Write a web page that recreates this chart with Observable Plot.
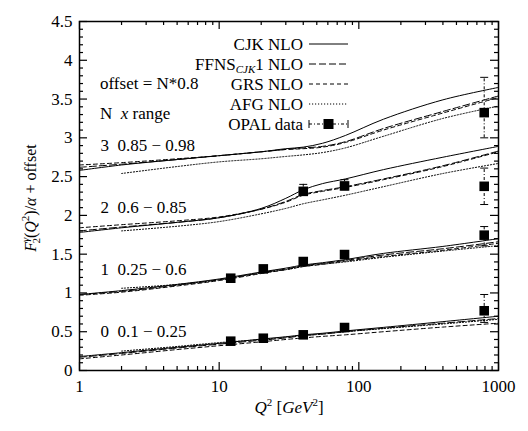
<!DOCTYPE html>
<html><head><meta charset="utf-8">
<script src="https://cdn.jsdelivr.net/npm/d3@7"></script>
<script src="https://cdn.jsdelivr.net/npm/@observablehq/plot@0.6"></script>
<style>body{margin:0;background:#fff}</style>
</head><body><div id="chart"></div>
<script>
// Q^2 grid for the theory curves (AFG starts at 2)
const Q = [1, 2, 5, 10, 20, 30, 40, 55, 80, 150, 400, 1000];
const QA = [2, 5, 10, 20, 30, 40, 55, 80, 150, 400, 1000];

// N = 0 : x 0.1 - 0.25
const cjk0  = [0.18, 0.23, 0.30, 0.35, 0.405, 0.435, 0.46, 0.48, 0.51, 0.556, 0.63, 0.70];
const ffns0 = [0.17, 0.22, 0.29, 0.34, 0.39, 0.42, 0.45, 0.47, 0.50, 0.545, 0.61, 0.67];
const grs0  = [0.15, 0.20, 0.27, 0.32, 0.37, 0.40, 0.42, 0.44, 0.46, 0.50, 0.56, 0.61];
const afg0  = [0.25, 0.31, 0.36, 0.40, 0.43, 0.45, 0.47, 0.50, 0.54, 0.60, 0.66];
// N = 1 : x 0.25 - 0.6
const cjk1  = [0.98, 1.03, 1.11, 1.18, 1.27, 1.32, 1.36, 1.39, 1.43, 1.51, 1.60, 1.70];
const ffns1 = [0.98, 1.02, 1.10, 1.17, 1.26, 1.31, 1.35, 1.38, 1.42, 1.49, 1.57, 1.66];
const grs1  = [0.97, 1.01, 1.09, 1.16, 1.25, 1.30, 1.34, 1.37, 1.41, 1.47, 1.55, 1.64];
const afg1  = [1.06, 1.11, 1.17, 1.26, 1.30, 1.34, 1.37, 1.40, 1.46, 1.54, 1.61];
// N = 2 : x 0.6 - 0.85
const cjk2  = [1.78, 1.84, 1.91, 1.97, 2.09, 2.22, 2.33, 2.41, 2.47, 2.59, 2.75, 2.89];
const ffns2 = [1.80, 1.85, 1.91, 1.97, 2.08, 2.18, 2.27, 2.32, 2.37, 2.47, 2.64, 2.83];
const grs2  = [1.84, 1.88, 1.93, 1.98, 2.08, 2.17, 2.26, 2.31, 2.36, 2.46, 2.63, 2.82];
const afg2  = [1.80, 1.86, 1.92, 2.02, 2.09, 2.15, 2.20, 2.26, 2.37, 2.54, 2.67];
// N = 3 : x 0.85 - 0.98
const cjk3  = [2.58, 2.65, 2.72, 2.77, 2.82, 2.86, 2.88, 2.93, 3.03, 3.24, 3.49, 3.65];
const ffns3 = [2.62, 2.66, 2.72, 2.77, 2.82, 2.85, 2.87, 2.89, 2.95, 3.12, 3.34, 3.54];
const grs3  = [2.65, 2.68, 2.73, 2.77, 2.82, 2.85, 2.86, 2.88, 2.94, 3.10, 3.32, 3.52];
const afg3  = [2.54, 2.63, 2.69, 2.73, 2.76, 2.78, 2.81, 2.87, 3.02, 3.25, 3.41];

// OPAL data
const opalSet = [0, 0, 0, 0, 0, 1, 1, 1, 1, 1, 2, 2, 2, 3];
const opalQ   = [12.1, 20.7, 40, 79, 790, 12.1, 20.7, 40, 79, 790, 40, 79, 790, 790];
const opalY   = [0.378, 0.416, 0.46, 0.554, 0.77, 1.19, 1.31, 1.405, 1.495, 1.745, 2.31, 2.38, 2.375, 3.325];
const opalHi  = [0.40, 0.44, 0.48, 0.58, 0.98, 1.21, 1.33, 1.43, 1.52, 1.856, 2.40, 2.46, 2.61, 3.78];
const opalLo  = [0.36, 0.39, 0.44, 0.53, 0.62, 1.17, 1.29, 1.38, 1.47, 1.607, 2.26, 2.33, 2.14, 3.00];

const models = ["CJK NLO", "FFNS1 NLO", "GRS NLO", "AFG NLO"];
const dashes = [null, "7,3", "4,3", "1.2,1.8"];
const setLabels = ["0\u20020.1 \u2212 0.25", "1\u20020.25 \u2212 0.6", "2\u20020.6 \u2212 0.85", "3\u20020.85 \u2212 0.98"];
const xMajor = [1, 10, 100, 1000];
const xMinor = [2,3,4,5,6,7,8,9,20,30,40,50,60,70,80,90,200,300,400,500,600,700,800,900];
const yMajor = [0, 0.5, 1, 1.5, 2, 2.5, 3, 3.5, 4, 4.5];
const yMinor = d3.range(1, 45).filter(i => i % 5 !== 0).map(i => i / 10);

const curves = [
  [cjk0, ffns0, grs0, afg0], [cjk1, ffns1, grs1, afg1],
  [cjk2, ffns2, grs2, afg2], [cjk3, ffns3, grs3, afg3]
];
const rows = [];
curves.forEach((set, n) => set.forEach((vals, m) => {
  const qs = m === 3 ? QA : Q;
  vals.forEach((v, i) => rows.push({q: qs[i], y: v, key: n + "-" + m, m}));
}));
const opal = opalQ.map((q, i) => ({q, y: opalY[i], hi: opalHi[i], lo: opalLo[i], set: opalSet[i]}));

const W = 528, H = 431, mL = 79, mR = 30, mT = 21, mB = 61;
const innerW = W - mL - mR, innerH = H - mT - mB;
const font = "'Liberation Serif', 'Times New Roman', 'DejaVu Serif', serif";
const FS = 17, FSs = 11;
const cap = {draw(ctx) { ctx.moveTo(-4, 0); ctx.lineTo(4, 0); }};

function overlay(index, scales, values, dims) {
  const g = d3.create("svg:g").attr("font-family", font).attr("font-size", FS)
    .attr("fill", "black").attr("text-anchor", "start");
  // legend
  const lx1 = 309, lx2 = 348, tx = 303;
  models.concat(["OPAL data"]).forEach((name, i) => {
    const y = 44 + 20 * i;
    const t = g.append("text").attr("x", tx).attr("y", y).attr("dy", "0.35em").attr("text-anchor", "end");
    if (i === 1) {
      t.append("tspan").text("FFNS");
      t.append("tspan").attr("font-style", "italic").attr("font-size", FSs).attr("dy", 3).text("CJK");
      t.append("tspan").attr("dy", -3).text("1 NLO");
    } else t.text(name);
    if (i < 4) {
      g.append("line").attr("x1", lx1).attr("x2", lx2).attr("y1", y).attr("y2", y)
        .attr("stroke", "black").attr("stroke-width", 1).attr("stroke-dasharray", dashes[i]);
    } else {
      g.append("line").attr("x1", lx1).attr("x2", lx2).attr("y1", y).attr("y2", y)
        .attr("stroke", "black").attr("stroke-width", 1).attr("stroke-dasharray", "3,2,1,2");
      [lx1, lx2].forEach(x => g.append("line").attr("x1", x).attr("x2", x).attr("y1", y - 4).attr("y2", y + 4).attr("stroke", "black"));
      g.append("rect").attr("x", (lx1 + lx2) / 2 - 5).attr("y", y - 5).attr("width", 10).attr("height", 10).attr("fill", "black");
    }
  });
  // annotations
  g.append("text").attr("x", 100).attr("y", 83).attr("dy", "0.35em").text("offset = N*0.8");
  const nx = g.append("text").attr("x", 100).attr("y", 113).attr("dy", "0.35em");
  nx.append("tspan").text("N\u2002");
  nx.append("tspan").attr("font-style", "italic").text("x");
  nx.append("tspan").text(" range");
  // y-axis title
  const yt = g.append("text").attr("transform", "translate(30,198) rotate(-90)").attr("text-anchor", "middle")
    .attr("dy", "0.35em").attr("font-size", 16);
  yt.append("tspan").attr("font-style", "italic").text("F");
  yt.append("tspan").attr("font-style", "italic").attr("font-size", FSs).attr("dy", -7).text("\u03b3");
  yt.append("tspan").attr("font-size", FSs).attr("dx", -6).attr("dy", 11).text("2");
  yt.append("tspan").attr("dy", -4).text("(");
  yt.append("tspan").attr("font-style", "italic").text("Q");
  yt.append("tspan").attr("font-size", FSs).attr("dy", -7).text("2");
  yt.append("tspan").attr("dy", 7).text(")/");
  yt.append("tspan").attr("font-style", "italic").text("\u03b1");
  yt.append("tspan").text(" + offset");
  // x-axis title
  const xt = g.append("text").attr("x", 289).attr("y", 413).attr("text-anchor", "middle");
  xt.append("tspan").attr("font-style", "italic").text("Q");
  xt.append("tspan").attr("font-size", FSs).attr("dy", -7).text("2");
  xt.append("tspan").attr("dy", 7).text(" [");
  xt.append("tspan").attr("font-style", "italic").text("GeV");
  xt.append("tspan").attr("font-size", FSs).attr("dy", -7).text("2");
  xt.append("tspan").attr("dy", 7).text("]");
  return g.node();
}

const chart = Plot.plot({
  width: W, height: H, marginLeft: mL, marginRight: mR, marginTop: mT, marginBottom: mB,
  x: {type: "log", domain: [1, 1000]},
  y: {domain: [0, 4.5]},
  style: {fontFamily: font, fontSize: FS + "px", background: "white", color: "black"},
  marks: [
    Plot.axisX({ticks: xMajor, tickSize: 0, tickPadding: 9, tickFormat: d => String(d), label: null, fontSize: FS, fontFamily: font}),
    Plot.axisY({ticks: yMajor, tickSize: 0, tickPadding: 7, tickFormat: d => String(d), label: null, fontSize: FS, fontFamily: font}),
    Plot.tickX(xMajor, {x: d => d, insetTop: innerH - 8, strokeWidth: 1.2}),
    Plot.tickX(xMajor, {x: d => d, insetBottom: innerH - 8, strokeWidth: 1.2}),
    Plot.tickX(xMinor, {x: d => d, insetTop: innerH - 4, strokeWidth: 1.2}),
    Plot.tickX(xMinor, {x: d => d, insetBottom: innerH - 4, strokeWidth: 1.2}),
    Plot.tickY(yMajor, {y: d => d, insetRight: innerW - 8, strokeWidth: 1.2}),
    Plot.tickY(yMajor, {y: d => d, insetLeft: innerW - 8, strokeWidth: 1.2}),
    Plot.tickY(yMinor, {y: d => d, insetRight: innerW - 4, strokeWidth: 1.2}),
    Plot.tickY(yMinor, {y: d => d, insetLeft: innerW - 4, strokeWidth: 1.2}),
    ...[0, 1, 2, 3].map(m => Plot.line(rows.filter(r => r.m === m), {
      x: "q", y: "y", z: "key", stroke: "black", strokeWidth: 1,
      strokeDasharray: dashes[m], curve: "catmull-rom"
    })),
    Plot.ruleX(opal, {x: "q", y1: "lo", y2: "hi", stroke: "black", strokeWidth: 1, strokeDasharray: "3,2,1,2"}),
    Plot.dot(opal, {x: "q", y: "hi", symbol: cap, r: 4, stroke: "black", strokeWidth: 1}),
    Plot.dot(opal, {x: "q", y: "lo", symbol: cap, r: 4, stroke: "black", strokeWidth: 1}),
    Plot.dot(opal, {x: "q", y: "y", symbol: "square", r: 5.4, fill: "black"}),
    Plot.text(setLabels.map((t, n) => ({t, y: n * 0.8 + 0.5})), {
      y: "y", text: "t", frameAnchor: "left", dx: 21, textAnchor: "start", fontSize: FS, fontFamily: font, fill: "black"
    }),
    Plot.frame({stroke: "black", strokeWidth: 1.5}),
    overlay
  ]
});
document.getElementById("chart").append(chart);
</script>
</body></html>
